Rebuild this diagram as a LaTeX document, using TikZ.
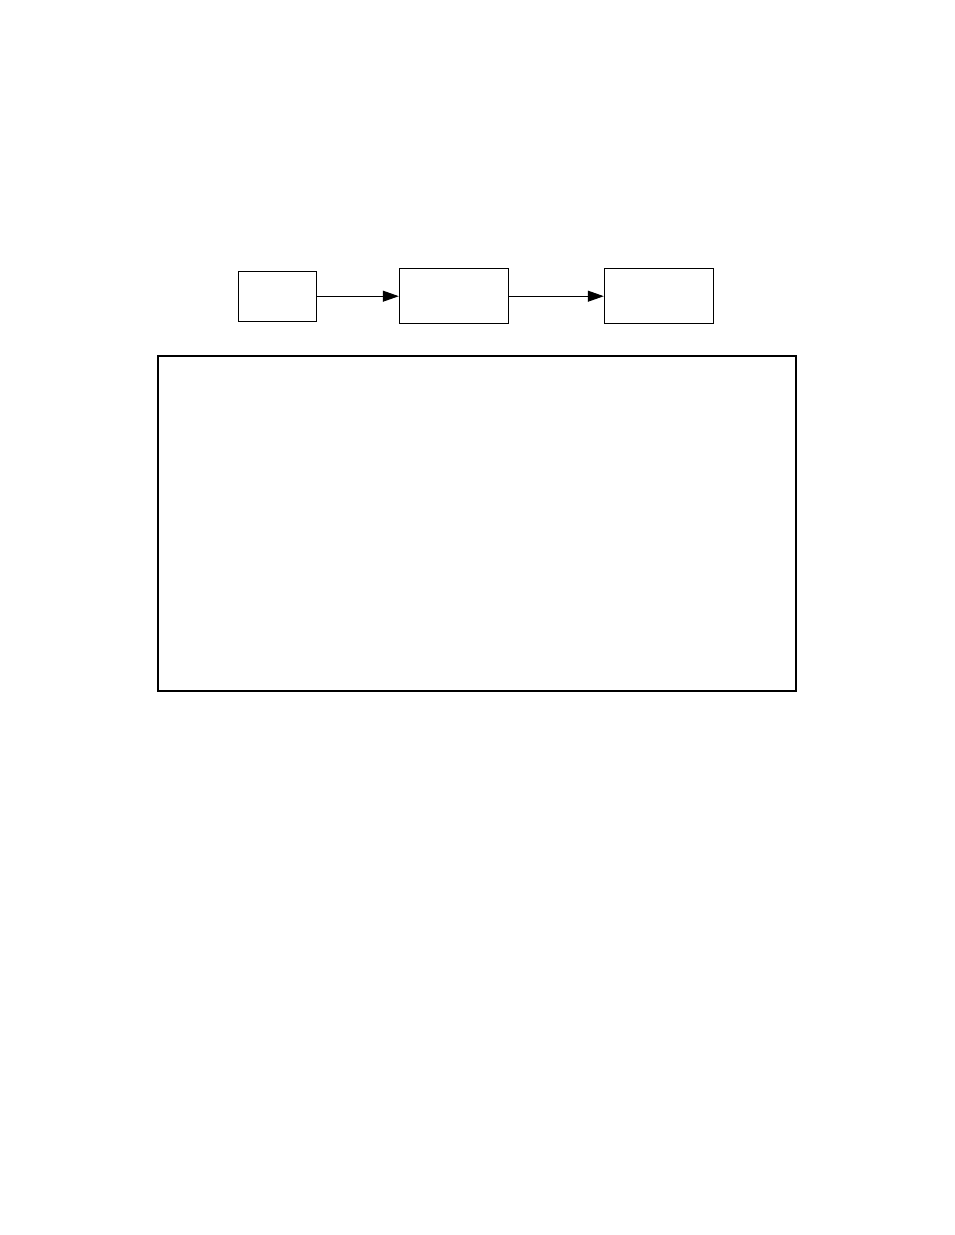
\documentclass[tikz,border=0pt]{standalone}
\usetikzlibrary{arrows.meta}
\begin{document}
\begin{tikzpicture}[x=1pt,y=-1pt,
  smallbox/.style={draw=black,line width=1pt,inner sep=0pt},
  bigbox/.style={draw=black,line width=2pt,inner sep=0pt},
  conn/.style={line width=1pt,-{Triangle[length=16pt,width=11pt]}}]
\useasboundingbox[fill=white] (0,0) rectangle (954,1235);
\node[smallbox,minimum width=78pt,minimum height=50pt] (b1) at (277.3,296.2) {};
\node[smallbox,minimum width=109pt,minimum height=55pt] (b2) at (453.8,295.6) {};
\node[smallbox,minimum width=109pt,minimum height=55pt] (b3) at (658.8,295.6) {};
\node[bigbox,minimum width=638pt,minimum height=335pt] (big) at (477,523.5) {};
\draw[conn] (b1.east) -- (b1.east -| b2.west);
\draw[conn] (b2.east |- b1.east) -- (b3.west |- b1.east);
\end{tikzpicture}
\end{document}
